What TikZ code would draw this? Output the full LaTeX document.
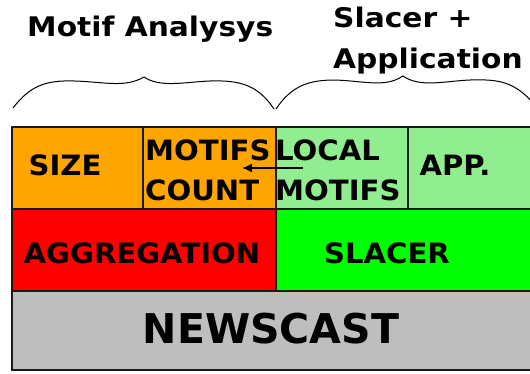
\documentclass[tikz,border=0pt]{standalone}
\usepackage{fontspec}
\setmainfont{DejaVu Sans}
\newfontfamily\lblfont[FakeStretch=1.04]{DejaVu Sans}
\newfontfamily\ttlfont[FakeStretch=1.1]{DejaVu Sans}
\usetikzlibrary{arrows.meta}
\begin{document}
\begin{tikzpicture}[x=1pt,y=-1pt,
  cell/.style={draw=black!90,line width=1.6pt,anchor=north west,inner sep=0pt,outer sep=0pt},
  lbl/.style={font=\lblfont\bfseries\fontsize{28}{28}\selectfont,inner sep=0pt,anchor=base},
  lbl2/.style={font=\lblfont\bfseries\fontsize{28}{40}\selectfont,inner sep=0pt,align=left,anchor=base west},
  ttl/.style={font=\ttlfont\bfseries\fontsize{27}{41}\selectfont,inner sep=0pt,anchor=base west,align=left},
  brace/.style={line width=1pt,black}]
\useasboundingbox (0,0) rectangle (530,373);
\clip (0,0) rectangle (530,373);
% cells
\node[cell,fill={rgb,255:red,255;green,165;blue,0},minimum width=131,minimum height=82] (size) at (12,127) {};
\node[cell,fill={rgb,255:red,255;green,165;blue,0},minimum width=133,minimum height=82] (count) at (143,127) {};
\node[cell,fill={rgb,255:red,144;green,238;blue,144},minimum width=132,minimum height=82] (local) at (276,127) {};
\node[cell,fill={rgb,255:red,144;green,238;blue,144},minimum width=140,minimum height=82] (app) at (408,127) {};
\node[cell,fill={rgb,255:red,255;green,0;blue,0},minimum width=264,minimum height=82] (aggr) at (12,209) {};
\node[cell,fill={rgb,255:red,0;green,255;blue,0},minimum width=272,minimum height=82] (slacer) at (276,209) {};
\node[cell,fill={rgb,255:red,190;green,190;blue,190},minimum width=536,minimum height=79] (news) at (12,291) {};
% labels
\node[lbl] (tsize) at (65,175) {SIZE};
\node[lbl2] (tcount) at (145,200) {MOTIFS\\COUNT};
\node[lbl2] (tlocal) at (275,200) {LOCAL\\MOTIFS};
\node[lbl] (tapp) at (455,175) {APP.};
\node[lbl] (taggr) at (142,263) {AGGREGATION};
\node[lbl] (tslacer) at (387,263) {SLACER};
\node[font=\bfseries\fontsize{41}{41}\selectfont,inner sep=0pt,anchor=base] (tnews) at (271,343) {NEWSCAST};
% arrow
\coordinate (afrom) at (303,168);
\coordinate (ato) at (242,168);
\draw[line width=1.5pt,-{Latex[length=10pt,width=9pt]}] (afrom) -- (ato);
% braces
\draw[brace] (13,108) .. controls (30,86) and (45,80) .. (75,81)
  .. controls (105,82) and (125,88) .. (144,77)
  .. controls (160,88) and (185,82) .. (210,81)
  .. controls (240,80) and (258,85) .. (274,109);
\draw[brace] (276,109) .. controls (292,85) and (310,80) .. (335,80)
  .. controls (365,81) and (385,88) .. (403,76)
  .. controls (420,88) and (445,81) .. (470,80)
  .. controls (500,79) and (515,82) .. (535,105);
% titles
\node[ttl] (tmotif) at (27,36) {Motif Analysys};
\node[ttl] (tslap) at (333,68) {Slacer +\\Application};
\end{tikzpicture}
\end{document}
